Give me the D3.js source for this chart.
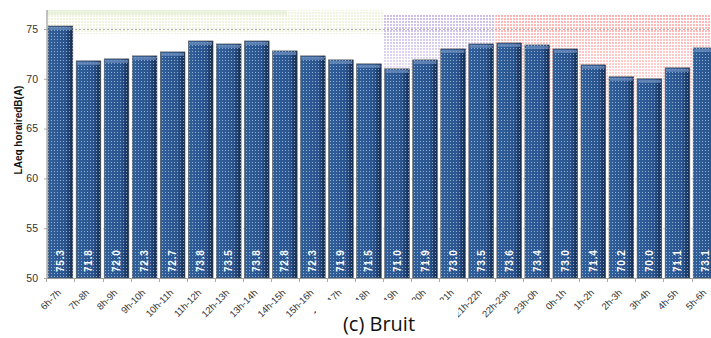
<!DOCTYPE html>
<html><head><meta charset="utf-8">
<script src="https://cdn.jsdelivr.net/npm/d3@7"></script>
<style>body{margin:0;background:#fff}svg{display:block}</style>
</head><body>
<script>
const categories = ["6h-7h","7h-8h","8h-9h","9h-10h","10h-11h","11h-12h","12h-13h","13h-14h","14h-15h","15h-16h","16h-17h","17h-18h","18h-19h","19h-20h","20h-21h","21h-22h","22h-23h","23h-0h","0h-1h","1h-2h","2h-3h","3h-4h","4h-5h","5h-6h"];
const values = [75.3,71.8,72.0,72.3,72.7,73.8,73.5,73.8,72.8,72.3,71.9,71.5,71.0,71.9,73.0,73.5,73.6,73.4,73.0,71.4,70.2,70.0,71.1,73.1];
const yTicks = [50,55,60,65,70,75];
const yLabel = "LAeq horairedB(A)";
const title = "(c) Bruit";
// periods shaded in background: [first category, last category]
const periods = [
  {from:"6h-7h", to:"17h-18h", color:"#eef2dc"},
  {from:"18h-19h", to:"21h-22h", color:"#cdbde8"},
  {from:"22h-23h", to:"5h-6h", color:"#ffb3b3"}
];

const W=711,H=338;
const svg=d3.select("body").append("svg").attr("width",W).attr("height",H);
const x=d3.scaleBand().domain(categories).range([47,47+24*28]).paddingInner(0.12).paddingOuter(0.04);
const y=d3.scaleLinear().domain([50,75]).range([278,29]);
const defs=svg.append("defs");

const g=defs.append("linearGradient").attr("id","barg").attr("x1",0).attr("x2",1);
g.append("stop").attr("offset","0%").attr("stop-color","#30609a");
g.append("stop").attr("offset","70%").attr("stop-color","#2a548e");
g.append("stop").attr("offset","100%").attr("stop-color","#142b4d");
const p=defs.append("pattern").attr("id","dots").attr("width",3).attr("height",3).attr("patternUnits","userSpaceOnUse");
p.append("rect").attr("width",1).attr("height",1).attr("fill","rgba(215,228,248,0.6)");
periods.forEach((d,i)=>{
  const pp=defs.append("pattern").attr("id","bp"+i).attr("width",3).attr("height",3).attr("patternUnits","userSpaceOnUse");
  pp.append("rect").attr("width",3).attr("height",3).attr("fill","#fff");
  pp.append("rect").attr("width",2).attr("height",2).attr("fill",d.color);
  const fg=defs.append("linearGradient").attr("id","fade"+i).attr("x1",0).attr("x2",0).attr("y1",0).attr("y2",1);
  fg.append("stop").attr("offset","0%").attr("stop-color","#fff").attr("stop-opacity",1);
  fg.append("stop").attr("offset","100%").attr("stop-color","#fff").attr("stop-opacity",0);
  const m=defs.append("mask").attr("id","mask"+i).attr("maskContentUnits","objectBoundingBox");
  m.append("rect").attr("width",1).attr("height",1).attr("fill","url(#fade"+i+")");
});

const bandX0=c=>x(c)-x.step()*x.paddingInner()/2;
const bandX1=c=>x(c)+x.bandwidth()+x.step()*x.paddingInner()/2;
svg.append("rect").attr("x",47).attr("y",10).attr("width",bandX0(periods[1].from)-47).attr("height",24)
  .attr("fill","url(#bp0)").attr("opacity",0.9);
svg.append("rect").attr("x",47).attr("y",10).attr("width",240).attr("height",5).attr("fill","#e6eed4").attr("opacity",0.7);
[1,2].forEach(i=>{
  const d=periods[i];
  const x0=bandX0(d.from), x1=Math.min(W,bandX1(d.to));
  svg.append("rect").attr("x",x0).attr("y",15).attr("width",x1-x0).attr("height",i==1?120:150)
    .attr("fill","url(#bp"+i+")").attr("mask","url(#mask"+i+")");
});

svg.append("g").selectAll("line").data(yTicks.filter(t=>t>50)).join("line")
  .attr("x1",47).attr("x2",W).attr("y1",d=>y(d)+0.5).attr("y2",d=>y(d)+0.5)
  .attr("stroke",d=>d==75?"#b0b0b0":"#d0d0d0").attr("stroke-dasharray","2,2");

const bars=svg.append("g").selectAll("g").data(categories).join("g");
bars.append("rect").attr("x",d=>x(d)).attr("y",(d,i)=>y(values[i])).attr("width",x.bandwidth())
  .attr("height",(d,i)=>y(50)-y(values[i])).attr("fill","url(#barg)").attr("stroke","#555").attr("stroke-width",0.6);
bars.append("rect").attr("x",d=>x(d)).attr("y",(d,i)=>y(values[i])).attr("width",x.bandwidth())
  .attr("height",(d,i)=>y(50)-y(values[i])).attr("fill","url(#dots)");
bars.append("rect").attr("x",d=>x(d)+1).attr("y",(d,i)=>y(values[i])+1).attr("width",x.bandwidth()-2)
  .attr("height",3).attr("fill","#7092c0").attr("opacity",0.7);
bars.append("text").attr("transform",d=>`translate(${x(d)+x.bandwidth()/2+3.5},${y(50)-6}) rotate(-90)`)
  .attr("font-family","Liberation Sans, Arial, sans-serif").attr("font-weight","bold").attr("font-size",10)
  .attr("fill","#fff").attr("letter-spacing",0.8).text((d,i)=>values[i].toFixed(1));

const ya=svg.append("g").attr("transform","translate(47,0)").call(d3.axisLeft(y).tickValues(yTicks).tickSize(3).tickPadding(6));
ya.select(".domain").attr("d","M0,10V278").attr("stroke","#888");
ya.selectAll(".tick line").attr("stroke","#aaa");
ya.selectAll("text").attr("font-family","Liberation Sans, Arial, sans-serif").attr("font-size",10.5).attr("fill","#333");

const xa=svg.append("g").attr("transform","translate(0,278)").call(d3.axisBottom(x).tickSize(0).tickPadding(0));
xa.select(".domain").attr("d",`M47,0.5H${W}`).attr("stroke","#999");
xa.selectAll(".tick text").attr("font-family","Liberation Sans, Arial, sans-serif").attr("font-size",9.5).attr("fill","#333")
  .attr("text-anchor","end").attr("transform","translate(-1,13) rotate(-45)").attr("dy","0.35em");
svg.append("g").selectAll("line").data(categories).join("line")
  .attr("x1",d=>Math.round(bandX0(d))+0.5).attr("x2",d=>Math.round(bandX0(d))+0.5).attr("y1",278).attr("y2",282).attr("stroke","#aaa");

svg.append("text").attr("transform","translate(22,130) rotate(-90)").attr("text-anchor","middle")
  .attr("font-family","Liberation Sans, Arial, sans-serif").attr("font-weight","bold").attr("font-size",10).attr("fill","#111").text(yLabel);
// caption box (white) over the lower part of the axis labels, as in the reference
svg.append("rect").attr("x",316).attr("y",300).attr("width",142).attr("height",38).attr("fill","#fff");
svg.append("text").attr("x",379).attr("y",331).attr("text-anchor","middle")
  .attr("font-family","Open Sans, Noto Sans, sans-serif").attr("font-size",20).attr("fill","#111").text(title);
</script>
</body></html>
